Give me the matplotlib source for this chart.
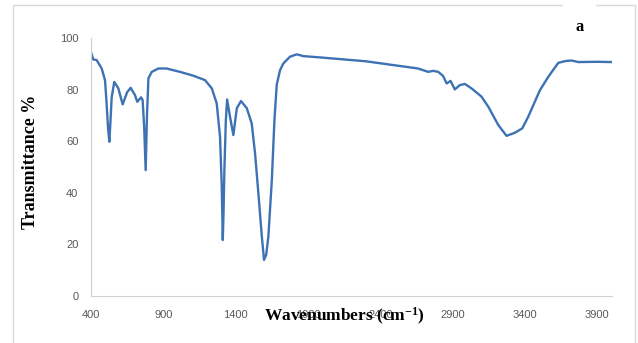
import matplotlib.pyplot as plt
from matplotlib.patches import Rectangle

plt.rcParams["mathtext.fontset"] = "custom"
plt.rcParams["mathtext.rm"] = "Liberation Serif:bold"
plt.rcParams["mathtext.it"] = "Liberation Serif:bold"
plt.rcParams["mathtext.bf"] = "Liberation Serif:bold"

# FTIR spectrum
wavenumber = [400, 416, 439, 474, 497, 508, 518, 527, 535, 543, 561, 589, 619, 650, 674,
              704, 720, 746, 757, 768, 778, 787, 797, 820, 866, 923, 1015, 1108, 1188,
              1235, 1269, 1292, 1304, 1311, 1316, 1322, 1332, 1341, 1361, 1384, 1408,
              1437, 1477, 1511, 1534, 1557, 1581, 1596, 1611, 1626, 1650, 1668, 1684,
              1707, 1730, 1776, 1823, 1868, 1984, 2300, 2661, 2731, 2765, 2800, 2834,
              2858, 2885, 2915, 2950, 2985, 3030, 3099, 3146, 3215, 3272, 3330, 3381,
              3422, 3503, 3561, 3630, 3680, 3722, 3768, 3900, 4000]
transmittance = [94.5, 91.7, 91.5, 88.2, 83.7, 74.7, 65, 59.8, 68, 77, 83, 80.5, 74.3, 79, 80.7,
                 77.9, 75.3, 77, 76, 65, 48.8, 70, 84.4, 86.9, 88.2, 88.2, 86.9, 85.4, 83.7,
                 80.5, 74.7, 61.7, 42.4, 21.7, 32, 48.8, 68, 76.2, 69.5, 62.4, 72.8,
                 75.6, 72.8, 66.9, 55.3, 39.8, 23, 14, 16, 23, 45, 68.2, 82,
                 87.6, 90.2, 92.8, 93.7, 93, 92.5, 91, 88.2, 86.9, 87.3, 86.9, 85.3,
                 82.4, 83.4, 80.1, 81.8, 82.2, 80.5, 77.3, 73.4, 66.3, 62.1, 63.3, 65,
                 69.5, 79.8, 85, 90.4, 91.1, 91.3, 90.7, 90.8, 90.7]

x_ticks = [400, 900, 1400, 1900, 2400, 2900, 3400, 3900]
y_ticks = [0, 20, 40, 60, 80, 100]

fig = plt.figure(figsize=(6.38, 3.43), dpi=100)
ax = fig.add_axes([0.1426, 0.137, 0.8164, 0.752])

ax.plot(wavenumber, transmittance, color="#3d72b4", linewidth=1.7)

ax.set_xlim(400, 4000)
ax.set_ylim(0, 100)
ax.set_xticks(x_ticks)
ax.set_yticks(y_ticks)
ax.tick_params(length=0, labelsize=8, labelcolor="#595959")
ax.tick_params(axis="x", pad=10)
ax.tick_params(axis="y", pad=9)
for lab in ax.get_xticklabels() + ax.get_yticklabels():
    lab.set_family("Liberation Sans")

for side in ["top", "right"]:
    ax.spines[side].set_visible(False)
for side in ["left", "bottom"]:
    ax.spines[side].set_color("#d0d0d0")

ax.set_ylabel("Transmittance %", family="Liberation Serif", fontweight="bold", fontsize=13)
ax.yaxis.set_label_coords(-0.1, 0.52)
ax.set_xlabel("Wavenumbers (cm$^{-1}$)", family="Liberation Serif", fontweight="bold", fontsize=12.5)
ax.xaxis.set_label_coords(0.486, -0.038)

# outer frame with a gap where the panel letter sits
fig.add_artist(Rectangle((13 / 638, -0.02), 622 / 638, 1.02 - 5 / 343, transform=fig.transFigure,
                         fill=False, edgecolor="#d9d9d9", linewidth=1))
fig.add_artist(Rectangle((563 / 638, (343 - 8) / 343), 33 / 638, 6 / 343, transform=fig.transFigure,
                         facecolor="white", edgecolor="none"))
fig.text(580 / 638, (343 - 27) / 343, "a", family="Liberation Serif", fontweight="bold",
         fontsize=12, ha="center", va="center")

fig.savefig("out.png", dpi=100)
